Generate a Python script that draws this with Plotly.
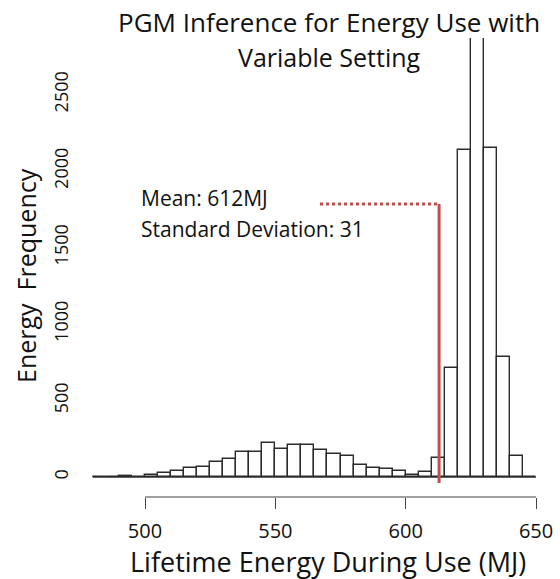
import plotly.graph_objects as go

# ---------------- data ----------------
bin_start = 480
bin_width = 5
counts = [0, 0, 5, 0, 11, 24, 41, 57, 67, 100, 116, 165, 165, 219,
          186, 207, 207, 176, 152, 135, 76, 61, 52, 39, 15, 31, 127,
          712, 2137, 3300, 2150, 787, 135, 0]
bin_centers = [bin_start + bin_width * (i + 0.5) for i in range(len(counts))]
bin_end = bin_start + bin_width * len(counts)

x_ticks = [500, 550, 600, 650]
y_ticks = [0, 500, 1000, 1500, 2000, 2500]

mean_energy = 612.8
mean_label = "Mean: 612MJ"
sd_label = "Standard Deviation: 31"

title_line1 = "PGM Inference for Energy Use with"
title_line2 = "Variable Setting"
x_title = "Lifetime Energy During Use (MJ)"
y_title = "Energy\u00a0 Frequency"

# ---------------- layout geometry ----------------
W, H = 560, 579
L, R, T, B = 75, 5, 38, 82
PW, PH = W - L - R, H - T - B
FONT = "Open Sans"
RED = "#C0504D"
EDGE = "#2b2b2b"
TXT = "#111"

Y_PER_PX = 1 / 0.153  # counts per pixel
X_PX_PER_UNIT = 2.607


def px(xp):
    return (xp - L) / PW


def py(yp):
    return (H - B - yp) / PH


fig = go.Figure()
fig.add_trace(go.Bar(
    x=bin_centers, y=counts, width=bin_width,
    marker=dict(color="white", line=dict(color=EDGE, width=1.4)),
    showlegend=False, hoverinfo="x+y",
))

y_top = (477 - 38) * Y_PER_PX
y_bot = -(497 - 477) * Y_PER_PX
mean_top = (477 - 204) * Y_PER_PX
mean_bottom = -(483 - 477) * Y_PER_PX
dotted_start = 500 + (320 - 145) / X_PX_PER_UNIT

shapes = [
    # histogram baseline (zero-count bins drawn as flat line)
    dict(type="line", xref="x", yref="y", x0=bin_start, x1=bin_end, y0=0, y1=0,
         line=dict(color=EDGE, width=1.4), layer="above"),
    # R-style axis line spanning the tick range
    dict(type="line", xref="x", yref="paper", x0=x_ticks[0], x1=x_ticks[-1], y0=0, y1=0,
         line=dict(color="#444", width=1.2)),
    # mean line
    dict(type="line", xref="x", yref="y", x0=mean_energy, x1=mean_energy,
         y0=mean_bottom, y1=mean_top, line=dict(color=RED, width=3), layer="above"),
    dict(type="line", xref="x", yref="y", x0=dotted_start, x1=mean_energy,
         y0=mean_top, y1=mean_top, line=dict(color=RED, width=3, dash="dot"), layer="above"),
]

annotations = [
    dict(text=title_line1, x=px(329), y=py(22), xref="paper", yref="paper",
         xanchor="center", yanchor="middle", showarrow=False,
         font=dict(family=FONT, size=26, color=TXT)),
    dict(text=title_line2, x=px(329), y=py(57), xref="paper", yref="paper",
         xanchor="center", yanchor="middle", showarrow=False,
         font=dict(family=FONT, size=25, color=TXT)),
    dict(text=mean_label, x=px(139), y=py(198), xref="paper", yref="paper",
         xanchor="left", yanchor="middle", showarrow=False,
         font=dict(family=FONT, size=21, color=TXT)),
    dict(text=sd_label, x=px(139), y=py(229), xref="paper", yref="paper",
         xanchor="left", yanchor="middle", showarrow=False,
         font=dict(family=FONT, size=21, color=TXT)),
    dict(text=x_title, x=px(328), y=py(561), xref="paper", yref="paper",
         xanchor="center", yanchor="middle", showarrow=False,
         font=dict(family=FONT, size=27, color=TXT)),
    dict(text=y_title, x=px(26), y=py(276), xref="paper", yref="paper",
         xanchor="center", yanchor="middle", showarrow=False, textangle=-90,
         font=dict(family=FONT, size=25, color=TXT)),
]

x_lo = 500 - (145 - L) / X_PX_PER_UNIT
x_hi = x_lo + PW / X_PX_PER_UNIT

fig.update_layout(
    width=W, height=H,
    margin=dict(l=L, r=R, t=T, b=B),
    paper_bgcolor="white", plot_bgcolor="white",
    bargap=0, showlegend=False,
    shapes=shapes, annotations=annotations,
    font=dict(family=FONT, color=TXT),
    xaxis=dict(range=[x_lo, x_hi], tickvals=x_ticks, showline=False, showgrid=False,
               zeroline=False, ticks="outside", ticklen=11, tickwidth=1.2, tickcolor="#444",
               tickfont=dict(family=FONT, size=20, color=TXT), ticklabelstandoff=5),
    yaxis=dict(range=[y_bot, y_top], tickvals=y_ticks, showline=False, showgrid=False,
               zeroline=False, ticks="", tickangle=-90,
               tickfont=dict(family=FONT, size=18, color=TXT), ticklabelstandoff=2),
)

fig.write_html("out.html")
